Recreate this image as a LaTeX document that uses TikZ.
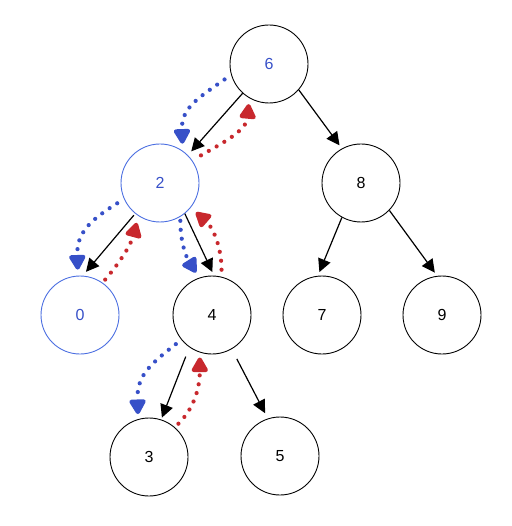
\documentclass[tikz,border=0pt]{standalone}
\usepackage{fontspec}
\setmainfont{Liberation Sans}
\usetikzlibrary{arrows.meta}
\definecolor{visitblue}{RGB}{55,80,200}
\definecolor{ringblue}{RGB}{75,110,225}
\definecolor{backred}{RGB}{200,40,45}

\begin{document}
\begin{tikzpicture}[x=1pt,y=1pt,
		vertex/.style={circle,draw=black,line width=0.9pt,minimum size=78pt,inner sep=0pt,font=\fontsize{16}{18}\selectfont},
		seen/.style={vertex,draw=ringblue,text=visitblue},
		edge/.style={line width=1.2pt,-{Triangle[length=13pt,width=13pt]},shorten >=5pt},
		walk/.style={line width=4.2pt,line cap=round,dash pattern=on 0pt off 9pt,-{Triangle[length=17pt,width=18pt,round]}},
		godown/.style={walk,visitblue},
		goup/.style={walk,backred}]
		\useasboundingbox (0,0) rectangle (511,-526);
		\node[vertex,text=visitblue] (n6) at (269,-64) {6};
		\node[seen] (n2) at (160,-183) {2};
		\node[vertex] (n8) at (361,-183) {8};
		\node[seen] (n0) at (80,-315) {0};
		\node[vertex] (n4) at (212,-315) {4};
		\node[vertex] (n7) at (322,-315) {7};
		\node[vertex] (n9) at (442,-315) {9};
		\node[vertex] (n3) at (149,-457) {3};
		\node[vertex] (n5) at (280,-456) {5};
		\draw[edge] (n6.228) -- (n2.45);
		\draw[edge,shorten >=4pt] (n6.319) -- (n8.119);
		\draw[edge,shorten <=2pt] (n2.231) -- (n0.86);
		\draw[edge,shorten >=4pt] (n2.309) -- (n4.87);
		\draw[edge,shorten >=4pt] (n8.241) -- (n7.96);
		\draw[edge,shorten >=4pt] (n8.316) -- (n9.97);
		\draw[edge,shorten <=10pt,shorten >=2pt] (n4.235) -- (n3.72);
		\draw[edge,shorten <=11pt,shorten >=6pt] (n4.300) -- (n5.108);
		\draw[godown,shorten <=8pt,shorten >=7pt] (n6.196) to[out=215,in=92,looseness=1.2] (n2.55);
		\draw[goup,shorten <=10pt,shorten >=6pt] (n2.35) to[out=30,in=265] (n6.240);
		\draw[godown,shorten <=8pt,shorten >=6pt] (n2.204) to[out=212,in=92,looseness=1.2] (n0.93);
		\draw[goup,shorten <=4pt,shorten >=7pt] (n0.55) to[out=50,in=255] (n2.237);
		\draw[godown,shorten <=4pt,shorten >=6pt] (n2.301) to[out=270,in=122] (n4.109);
		\draw[goup,shorten <=7pt,shorten >=7pt] (n4.76) to[out=90,in=319] (n2.321);
		\draw[godown,shorten <=7pt,shorten >=5pt] (n4.219) to[out=218,in=92,looseness=1.2] (n3.106);
		\draw[goup,shorten <=5pt,shorten >=5pt] (n3.49) to[out=45,in=270] (n4.252);
\end{tikzpicture}
\end{document}
